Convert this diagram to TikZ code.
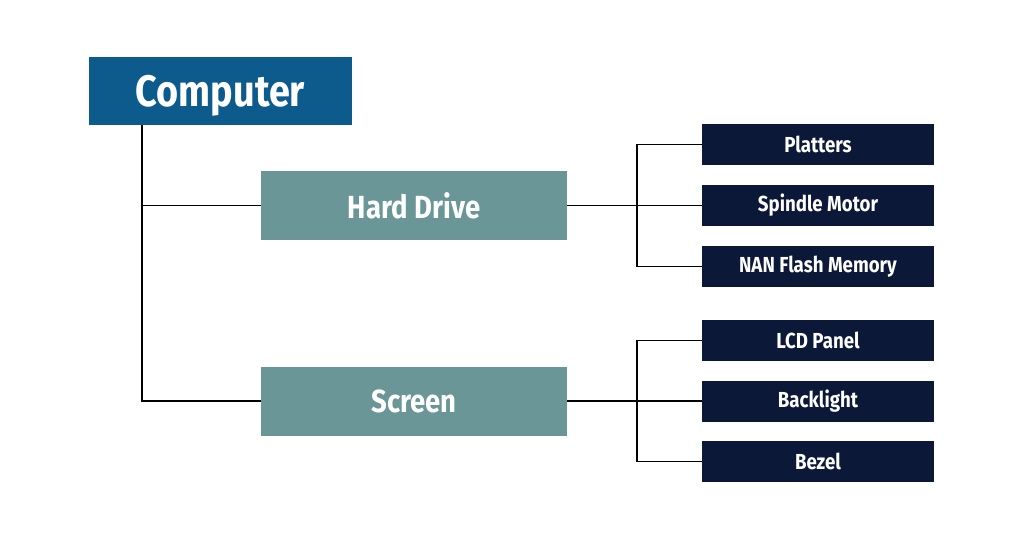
\documentclass[tikz,border=0pt]{standalone}
\usepackage{fontspec}
\setmainfont{Fira Sans}[FakeStretch=0.86]
\definecolor{compblue}{HTML}{0D5B8C}
\definecolor{teal}{HTML}{6A9697}
\definecolor{navy}{HTML}{0B1838}
\begin{document}
\begin{tikzpicture}[x=0.75pt,y=-0.75pt,
  topbox/.style={fill=compblue,text=white,minimum width=197.25pt,minimum height=51pt,inner sep=0pt,text depth=0pt,font=\fontsize{33}{35}\selectfont\bfseries},
  midbox/.style={fill=teal,text=white,minimum width=229.5pt,minimum height=51.75pt,inner sep=0pt,font=\fontsize{24}{26}\selectfont\bfseries},
  leafbox/.style={fill=navy,text=white,minimum width=174pt,minimum height=30.75pt,inner sep=0pt,font=\fontsize{16.3}{18}\selectfont\bfseries},
  link/.style={draw=black,line width=1.2pt}]
\useasboundingbox[fill=white] (0,0) rectangle (1024,536);
\node[topbox] (comp) at (220.5,91) {Computer};
\node[midbox] (hd) at (414,205.5) {Hard Drive};
\node[midbox] (scr) at (414,401) {Screen};
\node[leafbox] (plat) at (818,144.5) {Platters};
\node[leafbox] (spin) at (818,205.5) {Spindle Motor};
\node[leafbox] (nan) at (818,266.5) {NAN Flash Memory};
\node[leafbox] (lcd) at (818,340.5) {LCD Panel};
\node[leafbox] (back) at (818,401) {Backlight};
\node[leafbox] (bez) at (818,461.5) {Bezel};
\coordinate (trunk) at (142,401);
\coordinate (hdbus) at (637,0);
\coordinate (scbus) at (637,0);
\draw[link] (comp.south -| trunk) -- (trunk) -- (scr.west);
\draw[link] (trunk |- hd.west) -- (hd.west);
\draw[link] (hd.east) -- (spin.west);
\draw[link] (plat.west) -- (plat.west -| hdbus) -- (nan.west -| hdbus) -- (nan.west);
\draw[link] (scr.east) -- (back.west);
\draw[link] (lcd.west) -- (lcd.west -| scbus) -- (bez.west -| scbus) -- (bez.west);
\end{tikzpicture}
\end{document}
